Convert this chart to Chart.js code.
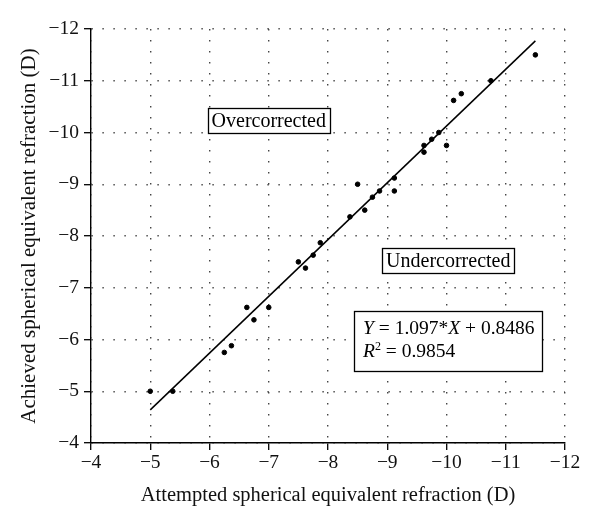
<!DOCTYPE html>
<html>
<head>
<meta charset="utf-8">
<script src="https://cdn.jsdelivr.net/npm/chart.js@4/dist/chart.umd.min.js"></script>
<style>
  html, body { margin: 0; padding: 0; background: #fff; }
  #wrap { width: 600px; height: 527px; }
</style>
</head>
<body>
<div id="wrap"><canvas id="scatter"></canvas></div>
<script>
// attempted vs achieved SE (D)
const attempted = [-5.00, -5.38, -6.25, -6.37, -6.63, -6.75, -7.00, -7.50, -7.62, -7.75,
  -7.87, -8.37, -8.50, -8.62, -8.75, -8.87, -9.12, -9.12, -9.62, -9.62,
  -9.75, -9.87, -10.00, -10.12, -10.25, -10.75, -11.50];
const achieved = [-5.00, -5.00, -5.75, -5.88, -6.62, -6.38, -6.62, -7.50, -7.38, -7.63,
  -7.87, -8.37, -9.00, -8.50, -8.75, -8.87, -9.12, -8.87, -9.75, -9.62,
  -9.87, -10.00, -9.75, -10.62, -10.75, -11.00, -11.50];
// regression line ends (Y = 1.097*X + 0.8486)
const fitX = [-5.0, -11.5];
const fitY = [-4.64, -11.77];
const tickValues = [-4, -5, -6, -7, -8, -9, -10, -11, -12];

const SERIF = '"Liberation Serif", "DejaVu Serif", serif';

// text boxes drawn on top of the plot
const boxesPlugin = {
  id: 'boxes',
  afterDatasetsDraw(chart) {
    const { ctx, scales: { x, y } } = chart;
    ctx.save();
    ctx.textBaseline = 'middle';

    function labelBox(text, vx, vy) {
      ctx.font = '20px ' + SERIF;
      const w = ctx.measureText(text).width + 8;
      const h = 25;
      const cx = x.getPixelForValue(vx), cy = y.getPixelForValue(vy);
      ctx.fillStyle = '#fff';
      ctx.fillRect(cx - w / 2, cy - h / 2, w, h);
      ctx.strokeStyle = '#000';
      ctx.lineWidth = 1.3;
      ctx.strokeRect(Math.round(cx - w / 2) + 0.5, Math.round(cy - h / 2) + 0.5, Math.round(w), h);
      ctx.fillStyle = '#000';
      ctx.textAlign = 'center';
      ctx.fillText(text, cx, cy + 1);
    }

    labelBox('Overcorrected', -7.0, -10.23);
    labelBox('Undercorrected', -10.03, -7.52);

    // equation box
    const left = x.getPixelForValue(-8.44), top = y.getPixelForValue(-6.55);
    const bw = 188, bh = 60;
    ctx.fillStyle = '#fff';
    ctx.fillRect(left, top, bw, bh);
    ctx.strokeStyle = '#000';
    ctx.lineWidth = 1.3;
    ctx.strokeRect(Math.round(left) + 0.5, Math.round(top) + 0.5, bw, bh);

    function runs(parts, px, py) {
      let cx = px;
      ctx.textAlign = 'left';
      ctx.fillStyle = '#000';
      parts.forEach(p => {
        ctx.font = (p.it ? 'italic ' : '') + (p.sup ? '12px ' : '19.5px ') + SERIF;
        ctx.fillText(p.t, cx, py + (p.sup ? -5 : 0));
        cx += ctx.measureText(p.t).width;
      });
    }
    runs([{ t: 'Y', it: true }, { t: ' = 1.097*' }, { t: 'X', it: true }, { t: ' + 0.8486' }], left + 9, top + 18);
    runs([{ t: 'R', it: true }, { t: '2', sup: true }, { t: ' = 0.9854' }], left + 9, top + 41);
    ctx.restore();
  }
};

const minus = v => (v < 0 ? '\u2212' + Math.abs(v) : String(v));

const axisCommon = {
  min: -12,
  max: -4,
  reverse: true,
  afterBuildTicks: s => { s.ticks = tickValues.map(v => ({ value: v })); },
  grid: {
    color: '#444',
    lineWidth: 1.4,
    tickColor: '#000',
    tickWidth: 1.3,
    tickLength: 7,
    tickBorderDash: []
  },
  border: { color: '#000', width: 1.4, dash: [1.4, 9.6] },
  ticks: {
    color: '#111',
    font: { family: SERIF, size: 19.5 },
    callback: v => minus(v)
  }
};

new Chart(document.getElementById('scatter'), {
  type: 'scatter',
  data: {
    datasets: [
      {
        label: 'Eyes',
        data: attempted.map((v, i) => ({ x: v, y: achieved[i] })),
        backgroundColor: '#000',
        borderColor: '#000',
        pointRadius: 2.3,
        pointHoverRadius: 2.3
      },
      {
        label: 'Fit',
        type: 'line',
        data: fitX.map((v, i) => ({ x: v, y: fitY[i] })),
        borderColor: '#000',
        borderWidth: 1.5,
        pointRadius: 0,
        fill: false
      }
    ]
  },
  plugins: [boxesPlugin],
  options: {
    responsive: true,
    maintainAspectRatio: false,
    animation: false,
    layout: { padding: { left: 0, top: 29, right: 35, bottom: 0 } },
    plugins: { legend: { display: false }, tooltip: { enabled: false } },
    scales: {
      x: {
        ...axisCommon,
        type: 'linear',
        position: 'bottom',
        ticks: { ...axisCommon.ticks, padding: 1, maxRotation: 0 },
        title: {
          display: true,
          text: 'Attempted spherical equivalent refraction (D)',
          color: '#111',
          font: { family: SERIF, size: 20.5 },
          padding: { top: 0, bottom: 19 }
        },
        afterFit: s => { s.height = 84; }
      },
      y: {
        ...axisCommon,
        type: 'linear',
        position: 'left',
        ticks: { ...axisCommon.ticks, padding: 5 },
        title: {
          display: true,
          text: 'Achieved spherical equivalent refraction (D)',
          color: '#111',
          font: { family: SERIF, size: 21 },
          padding: { top: 17, bottom: 0 }
        },
        afterFit: s => { s.width = 91; }
      }
    }
  }
});
</script>
</body>
</html>
